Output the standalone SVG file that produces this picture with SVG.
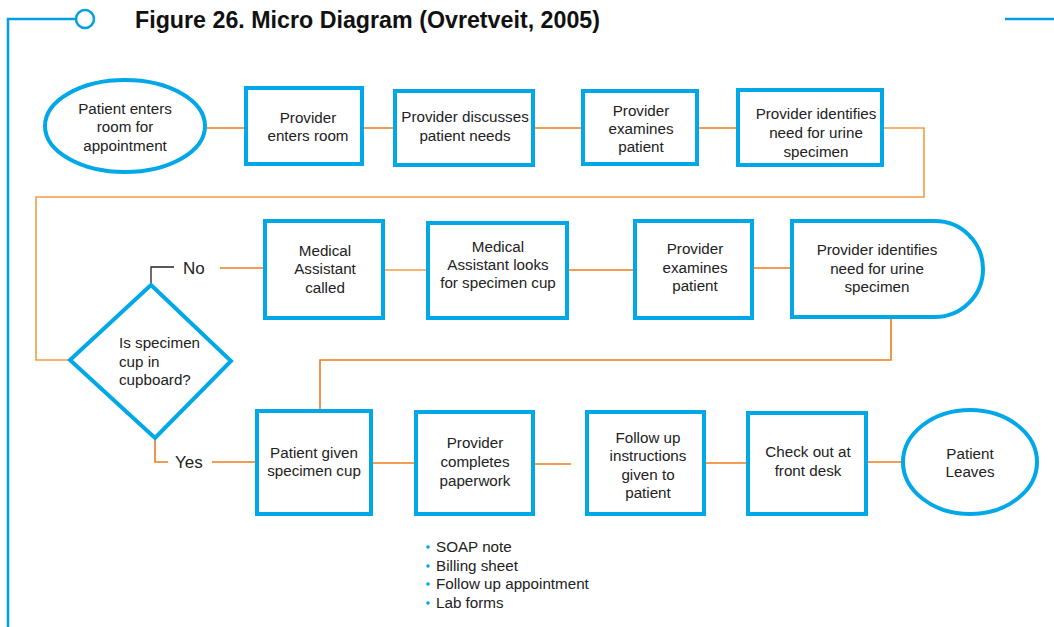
<svg xmlns="http://www.w3.org/2000/svg" width="1054" height="627" viewBox="0 0 1054 627">
<style>
.n{fill:#fff;stroke:#00a8e8;stroke-width:4}
.t{font-family:"Liberation Sans",Arial,sans-serif;font-size:15.2px;fill:#222;text-anchor:middle}
.l{font-family:"Liberation Sans",Arial,sans-serif;font-size:15.2px;fill:#222}
.c{fill:none;stroke:#ef7d1a;stroke-width:1.6}
.c2{fill:none;stroke:#f39c45;stroke-width:1.6}
</style>
<rect width="1054" height="627" fill="#fff"/>
<g id="frame">
<path d="M8 627V19H76" fill="none" stroke="#00a0e0" stroke-width="2.5"/>
<circle cx="85" cy="19" r="9" fill="#fff" stroke="#00a0e0" stroke-width="2.5"/>
<path d="M1005 19H1054" fill="none" stroke="#00a0e0" stroke-width="2.5"/>
<text x="135" y="28" font-family="'Liberation Sans Narrow','Liberation Sans',Arial,sans-serif" font-weight="bold" font-size="24.5" fill="#111" textLength="465" lengthAdjust="spacingAndGlyphs">Figure 26. Micro Diagram (Ovretveit, 2005)</text>
</g>
<g id="connectors">
<path class="c" d="M206 128H246"/>
<path class="c" d="M362 128H395"/>
<path class="c" d="M533 128H583"/>
<path class="c" d="M697 128H738"/>
<path class="c2" d="M882 128H924V197H36V360H70"/>
<path d="M151 285V267H174" fill="none" stroke="#222" stroke-width="1.3"/>
<path class="c" d="M220 268H265"/>
<path class="c2" d="M383 270H428"/>
<path class="c" d="M567 270H635"/>
<path class="c" d="M752 268H792"/>
<path class="c" d="M891 317V360H320V410"/>
<path class="c" d="M155 438V462H168"/>
<path class="c" d="M212 462H255"/>
<path class="c" d="M371 463H416"/>
<path class="c" d="M533 464H571"/>
<path class="c" d="M704 463H748"/>
<path class="c" d="M866 462H903"/>
</g>
<g id="n1"><ellipse class="n" cx="125" cy="126" rx="80" ry="46"/>
<text class="t" x="125" y="114">Patient enters</text><text class="t" x="125" y="132">room for</text><text class="t" x="125" y="151">appointment</text></g>
<g id="n2"><rect class="n" x="246" y="88" width="116" height="76"/>
<text class="t" x="308" y="123">Provider</text><text class="t" x="308" y="141">enters room</text></g>
<g id="n3"><rect class="n" x="395" y="91" width="138" height="74"/>
<text class="t" x="465" y="122">Provider discusses</text><text class="t" x="465" y="141">patient needs</text></g>
<g id="n4"><rect class="n" x="583" y="91" width="114" height="73"/>
<text class="t" x="641" y="116">Provider</text><text class="t" x="641" y="134">examines</text><text class="t" x="641" y="152">patient</text></g>
<g id="n5"><rect class="n" x="738" y="90" width="144" height="75"/>
<text class="t" x="816" y="119">Provider identifies</text><text class="t" x="816" y="138">need for urine</text><text class="t" x="816" y="157">specimen</text></g>
<g id="d1"><polygon class="n" points="151,285 231,361 155,438 70,360"/>
<text class="l" x="119" y="348">Is specimen</text><text class="l" x="119" y="367">cup in</text><text class="l" x="119" y="385">cupboard?</text></g>
<g id="lblNo"><text x="183" y="274" font-family="'Liberation Sans',Arial,sans-serif" font-size="17" fill="#222">No</text></g>
<g id="lblYes"><text x="175" y="468" font-family="'Liberation Sans',Arial,sans-serif" font-size="17" fill="#222">Yes</text></g>
<g id="n6"><rect class="n" x="265" y="221" width="118" height="97"/>
<text class="t" x="325" y="256">Medical</text><text class="t" x="325" y="274">Assistant</text><text class="t" x="325" y="293">called</text></g>
<g id="n7"><rect class="n" x="428" y="223" width="139" height="95"/>
<text class="t" x="498" y="252">Medical</text><text class="t" x="498" y="270">Assistant looks</text><text class="t" x="498" y="288">for specimen cup</text></g>
<g id="n8"><rect class="n" x="635" y="221" width="117" height="97"/>
<text class="t" x="695" y="254">Provider</text><text class="t" x="695" y="273">examines</text><text class="t" x="695" y="291">patient</text></g>
<g id="n9"><path class="n" d="M792 221H935A48 48 0 0 1 983 269A48 48 0 0 1 935 317H792Z"/>
<text class="t" x="877" y="255">Provider identifies</text><text class="t" x="877" y="274">need for urine</text><text class="t" x="877" y="292">specimen</text></g>
<g id="n10"><rect class="n" x="257" y="411" width="114" height="103"/>
<text class="t" x="314" y="458">Patient given</text><text class="t" x="314" y="476">specimen cup</text></g>
<g id="n11"><rect class="n" x="416" y="412" width="117" height="102"/>
<text class="t" x="475" y="448">Provider</text><text class="t" x="475" y="467">completes</text><text class="t" x="475" y="486">paperwork</text></g>
<g id="n12"><rect class="n" x="587" y="412" width="117" height="102"/>
<text class="t" x="648" y="443">Follow up</text><text class="t" x="648" y="461">instructions</text><text class="t" x="648" y="480">given to</text><text class="t" x="648" y="498">patient</text></g>
<g id="n13"><rect class="n" x="748" y="413" width="118" height="101"/>
<text class="t" x="808" y="457">Check out at</text><text class="t" x="808" y="476">front desk</text></g>
<g id="n14"><ellipse class="n" cx="970" cy="462" rx="67" ry="52"/>
<text class="t" x="970" y="459">Patient</text><text class="t" x="970" y="477">Leaves</text></g>
<g id="notes">
<g fill="#00a8e8"><circle cx="428" cy="547" r="1.8"/><circle cx="428" cy="566" r="1.8"/><circle cx="428" cy="584" r="1.8"/><circle cx="428" cy="603" r="1.8"/></g>
<text class="l" x="436" y="552">SOAP note</text>
<text class="l" x="436" y="571">Billing sheet</text>
<text class="l" x="436" y="589">Follow up appointment</text>
<text class="l" x="436" y="608">Lab forms</text>
</g>
</svg>
